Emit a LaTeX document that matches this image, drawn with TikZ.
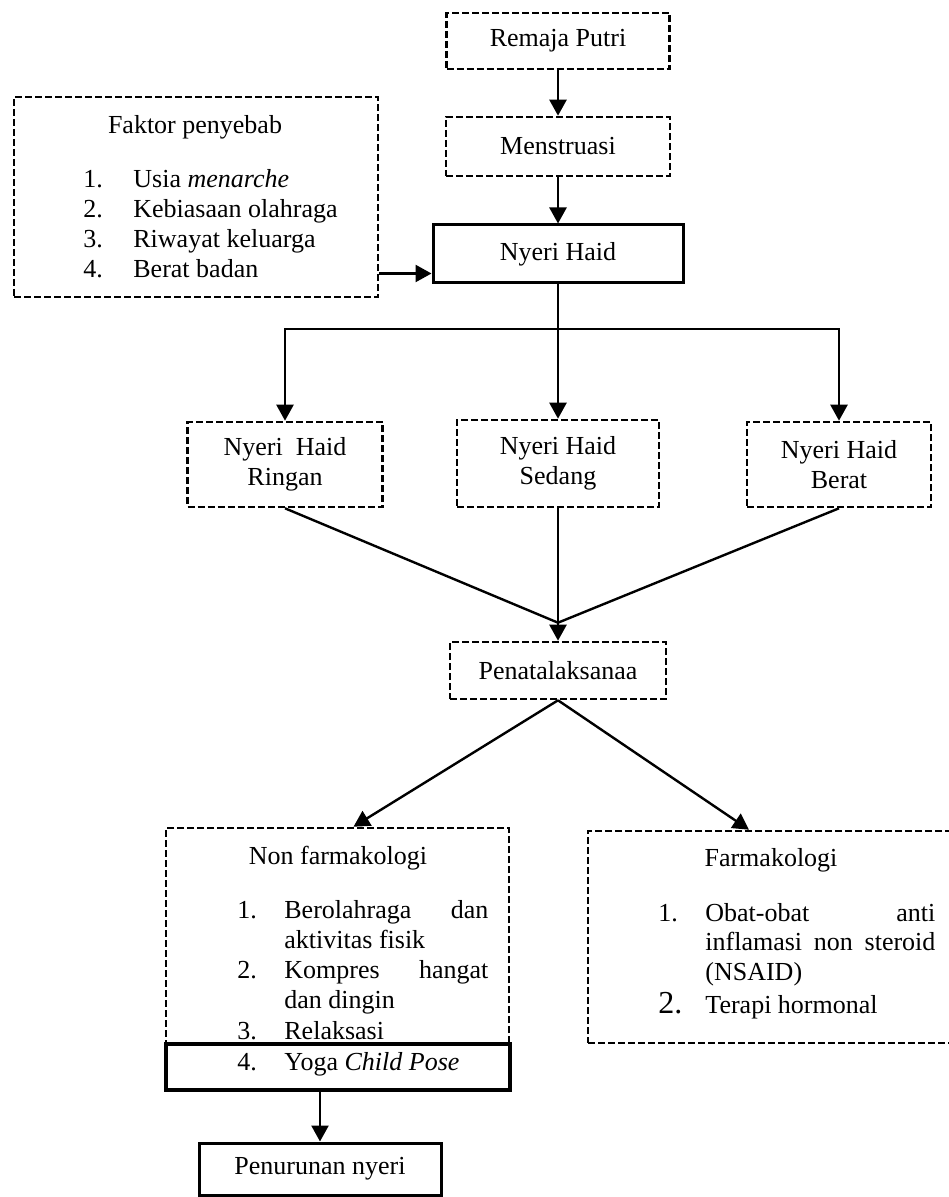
\documentclass[tikz,border=0pt]{standalone}
\usepackage{fontspec}
\setmainfont{Liberation Serif}
\usetikzlibrary{arrows.meta}

\tikzset{
  dashbox/.style={draw, line width=1.3pt, dash pattern=on 3.5pt off 1.5pt, inner sep=0pt, align=center},
  solidbox/.style={draw, line width=1.5pt, inner sep=0pt, align=center},
  arr/.style={line width=1.2pt, -{Triangle[length=8pt,width=8.5pt]}},
  link/.style={line width=1.2pt},
  txt/.style={anchor=base west, inner sep=0pt},
  title/.style={anchor=base, inner sep=0pt}
}

\begin{document}
\begin{tikzpicture}[x=0.5pt, y=-0.5pt, font=\fontsize{13}{15}\selectfont]
\useasboundingbox (0,0) rectangle (948,1197);

% main chain
\node[dashbox, minimum width=111.5pt, minimum height=28pt] (remaja) at (558,41) {Remaja Putri};
\node[dashbox, minimum width=112pt, minimum height=29.5pt] (mens) at (558,146.5) {Menstruasi};
\node[solidbox, minimum width=125pt, minimum height=29pt] (nyeri) at (558,254) {Nyeri Haid};
\draw[arr] (remaja) -- (mens);
\draw[arr] (mens) -- (nyeri);

% faktor penyebab
\node[dashbox, minimum width=182pt, minimum height=100pt] (faktor) at (196,197) {};
\node[title] (faktortitle) at (195,134) {Faktor penyebab};
\foreach \t [count=\i] in {Usia \textit{menarche}, Kebiasaan olahraga, Riwayat keluarga, Berat badan} {
  \node[txt] (fn\i) at (83,158+30*\i) {\i.};
  \node[txt] (ft\i) at (133,158+30*\i) {\t};
}
\coordinate (in) at ([yshift=5.5pt]nyeri.south west);
\draw[arr] (faktor.east |- in) -- (in);

% derajat nyeri
\node[dashbox, minimum width=97.5pt, minimum height=42.5pt] (ringan) at (285,464.5) {Nyeri\ \ Haid\\Ringan};
\node[dashbox, minimum width=101pt, minimum height=43.5pt] (sedang) at (558,463.5) {Nyeri Haid\\Sedang};
\node[dashbox, minimum width=92pt, minimum height=42.5pt] (berat) at (839,464.5) {Nyeri Haid\\Berat};
\coordinate (fork) at (558,329);
\draw[link] (nyeri.south) -- (fork);
\draw[arr] (fork) -| (ringan.north);
\draw[arr] (fork) -| (berat.north);
\draw[arr] (fork) -- (sedang.north);

% penatalaksanaan
\node[dashbox, minimum width=108pt, minimum height=28.5pt] (penata) at (558,670.5) {Penatalaksanaa};
\coordinate (meet) at ([yshift=9pt]penata.north);
\draw[arr] (sedang.south) -- (penata.north);
\draw[link] (ringan.south) -- (meet);
\draw[link] (berat.south) -- (meet);

% non farmakologi
\node[dashbox, minimum width=171.5pt, minimum height=131pt] (nonfarm) at (337.5,959) {};
\node[solidbox, line width=1.7pt, minimum width=172pt, minimum height=23pt] (yoga) at (338,1067) {};
\node[title] (nonfarmtitle) at (338,864) {Non farmakologi};
\foreach \n/\y in {1/918, 2/978, 3/1039, 4/1070}
  \node[txt] (nn\n) at (237,\y) {\n.};
\foreach \y/\t in {918/{\hbox to 102pt{Berolahraga\hfill dan}}, 948/{aktivitas fisik},
                   978/{\hbox to 102pt{Kompres\hfill hangat}}, 1008/{dan dingin},
                   1039/{Relaksasi}, 1070/{Yoga \textit{Child Pose}}}
  \node[txt] (nt\y) at (284,\y) {\t};

% farmakologi
\node[dashbox, minimum width=183pt, minimum height=106pt] (farm) at (771,937) {};
\node[title] (farmtitle) at (771,866) {Farmakologi};
\node[txt] (fm1) at (658,921) {1.};
\node[txt] (fm2) at (658,1013) {\fontsize{16}{15}\selectfont 2.};
\foreach \y/\t in {921/{\hbox to 115pt{Obat-obat\hfill anti}}, 950/{\hbox to 115pt{inflamasi\hfill non\hfill steroid}},
                   980/{(NSAID)}, 1013/{Terapi hormonal}}
  \node[txt] (ms\y) at (705,\y) {\t};

\draw[arr] (penata.south) -- ([xshift=8pt]nonfarm.north);
\draw[arr] (penata.south) -- ([xshift=-11pt]farm.north);

% hasil
\node[solidbox, minimum width=121pt, minimum height=26pt] (turun) at (320,1169) {Penurunan nyeri};
\draw[arr] (turun.north |- yoga.south) -- (turun.north);
\end{tikzpicture}
\end{document}
